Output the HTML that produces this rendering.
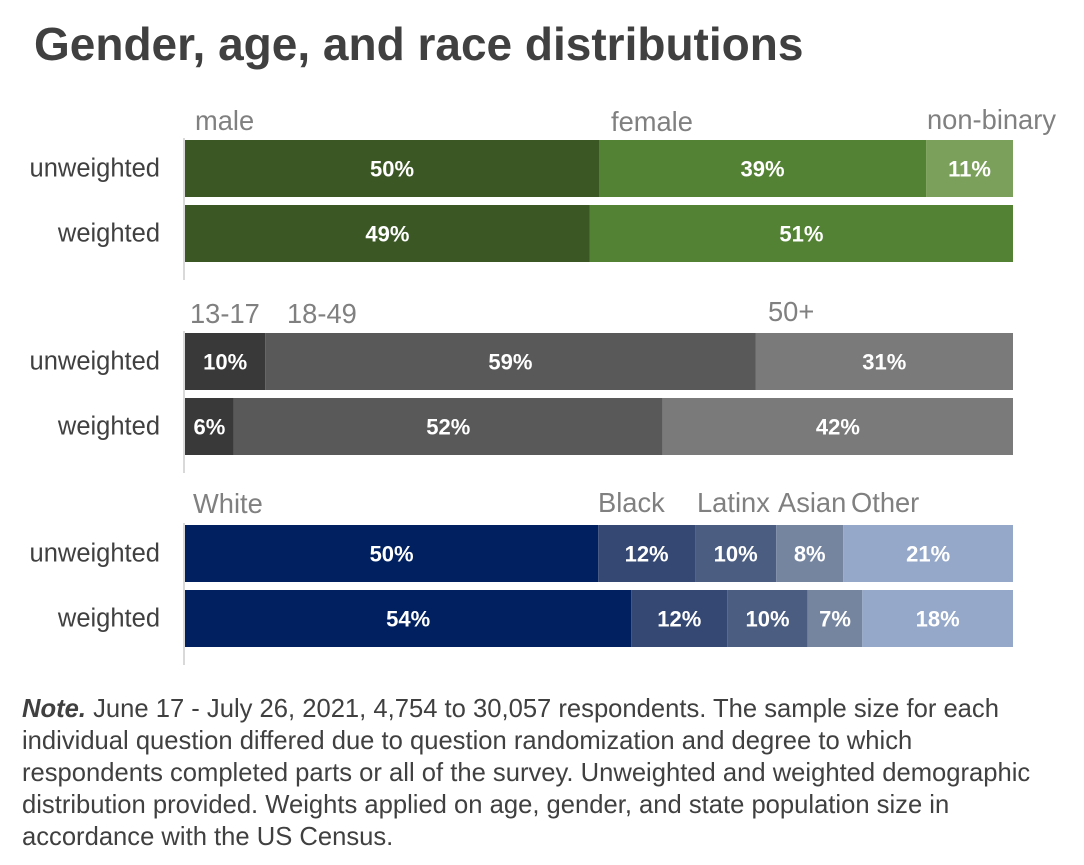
<!DOCTYPE html>
<html><head><meta charset="utf-8"><style>
body{margin:0;background:#fff;font-family:"Liberation Sans",Arial,sans-serif;}
#wrap{position:relative;width:1084px;height:865px;overflow:hidden;}
h1{position:absolute;left:34px;top:17px;margin:0;font-size:46px;font-weight:bold;color:#404040;}
#note{position:absolute;left:22px;top:693px;width:1012px;font-size:25.6px;line-height:32px;color:#404040;}
</style></head><body><div id="wrap">
<h1>Gender, age, and race distributions</h1>
<svg id="svg" width="1084" height="865" style="position:absolute;left:0;top:0"></svg>
<div id="note"><b><i>Note.</i></b> June 17 - July 26, 2021, 4,754 to 30,057 respondents. The sample size for each individual question differed due to question randomization and degree to which respondents completed parts or all of the survey. Unweighted and weighted demographic distribution provided. Weights applied on age, gender, and state population size in accordance with the US Census.</div>
</div>
<script>
const rowLabels=["unweighted","weighted"];
const genderCats=["male","female","non-binary"];
const genderUnw=[50.0,39.5,10.5];
const genderW=[48.9,51.1];
const genderPrint=[["50%","39%","11%"],["49%","51%"]];
const ageCats=["13-17","18-49","50+"];
const ageUnw=[9.7,59.2,31.1];
const ageW=[5.9,51.8,42.3];
const agePrint=[["10%","59%","31%"],["6%","52%","42%"]];
const raceCats=["White","Black","Latinx","Asian","Other"];
const raceUnw=[49.9,11.7,9.8,8.1,20.5];
const raceW=[53.9,11.6,9.7,6.6,18.2];
const racePrint=[["50%","12%","10%","8%","21%"],["54%","12%","10%","7%","18%"]];

const NS="http://www.w3.org/2000/svg";
const svg=document.getElementById('svg');
const X0=185,W=828;
const x=v=>X0+v/100*W;
function mk(t,a){const e=document.createElementNS(NS,t);for(const k in a)e.setAttribute(k,a[k]);svg.appendChild(e);return e;}
const groups=[
 {name:"gender",cats:genderCats,data:[genderUnw,genderW],print:genderPrint,top:140,colors:["#3a5724","#548235","#7ba05b"],labelX:[195,611,927],labelY:[130,131,129]},
 {name:"age",cats:ageCats,data:[ageUnw,ageW],print:agePrint,top:333,colors:["#393939","#595959","#7a7a7a"],labelX:[190,287,768],labelY:[323,323,321]},
 {name:"race",cats:raceCats,data:[raceUnw,raceW],print:racePrint,top:525,colors:["#002060","#354873","#4b5e82","#7585a0","#95a8c9"],labelX:[193,598,697,778,851],labelY:[513,512,512,512,512]}
];
groups.forEach(g=>{
  const ax=mk('line',{x1:184,x2:184,y1:g.top-2,y2:g.top+140,stroke:'#d9d9d9','stroke-width':2});
  
  
  g.cats.forEach((c,i)=>{
    const t=mk('text',{x:g.labelX[i],y:g.labelY[i],'font-size':27.3,fill:'#808080'});
    t.textContent=c;
    
    
  });
  g.data.forEach((vals,r)=>{
    const y=g.top+r*65,h=57;
    const rl=mk('text',{x:160,y:y+h/2+8,'font-size':25.5,fill:'#404040','text-anchor':'end'});
    rl.textContent=rowLabels[r];
    
    
    let cum=0;
    vals.forEach((v,i)=>{
      const a=x(cum),b=x(cum+v);cum+=v;
      const rc=mk('rect',{x:a,y:y,width:b-a,height:h,fill:g.colors[i]});
      
      
      const t=mk('text',{x:(a+b)/2,y:y+h/2+8,'font-size':22,'font-weight':'bold',fill:'#fff','text-anchor':'middle'});
      t.textContent=g.print[r][i];
      
      
    });
  });
});
</script></body></html>
